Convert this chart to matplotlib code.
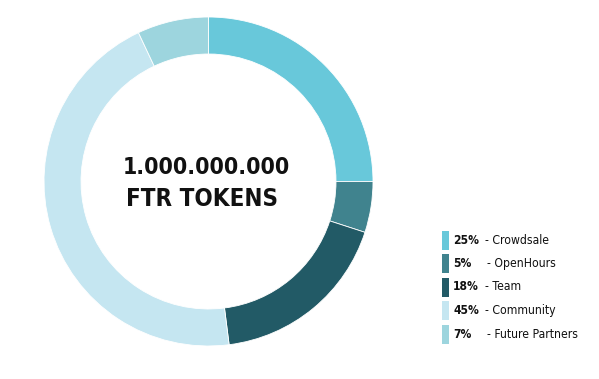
import matplotlib
matplotlib.use("Agg")
import matplotlib.pyplot as plt
from matplotlib.patches import Rectangle
from matplotlib import font_manager
from matplotlib.font_manager import FontProperties

labels = ["Crowdsale", "OpenHours", "Team", "Community", "Future Partners"]
values = [25, 5, 18, 45, 7]
pct_labels = ["25%", "5%", "18%", "45%", "7%"]
colors = ["#68C8DA", "#40838E", "#225A66", "#C5E6F1", "#9DD5DE"]
center_lines = ["1.000.000.000", "FTR TOKENS"]


def find_font(bold):
    best = None
    for f in font_manager.fontManager.ttflist:
        fn = f.fname.lower()
        cond = ("condensed" in fn or "narrow" in fn or
                str(f.stretch) in ("condensed", "semi-condensed", "extra-condensed"))
        if not cond or "italic" in fn or "oblique" in fn:
            continue
        w = f.weight if isinstance(f.weight, int) else (700 if "bold" in str(f.weight) else 400)
        score = -abs(w - (700 if bold else 400))
        if "mono" in fn or ("serif" in fn and "sans" not in fn):
            score -= 1000
        if best is None or score > best[0]:
            best = (score, f.fname)
    if best is None:
        return FontProperties(family="DejaVu Sans", weight="bold" if bold else "normal")
    return FontProperties(fname=best[1])


fp_bold = find_font(True)
fp_reg = find_font(False)

W, H = 599, 379
fig = plt.figure(figsize=(W / 100, H / 100), dpi=100)
fig.patch.set_facecolor("white")

cx, cy, R = 208.5, 181.5, 164.5
ax = fig.add_axes([(cx - R) / W, (H - cy - R) / H, 2 * R / W, 2 * R / H])
ax.pie(values, colors=colors, startangle=90, counterclock=False, radius=1,
       wedgeprops=dict(width=0.225, edgecolor="white", linewidth=0.6))
ax.set_xlim(-1, 1)
ax.set_ylim(-1, 1)
ax.set_aspect("equal")
ax.axis("off")

renderer = fig.canvas.get_renderer()


def fit(t, target_w, base):
    t.set_fontsize(base)
    w = t.get_window_extent(renderer).width
    if w > 0:
        t.set_fontsize(base * target_w / w)
    return t.get_fontsize()


t1 = fig.text(206.5 / W, (H - 167) / H, center_lines[0], ha="center", va="center",
              fontproperties=fp_bold, color="#111111")
fit(t1, 151 * 1.1, 24)
t2 = fig.text(202 / W, (H - 198.5) / H, center_lines[1], ha="center", va="center",
              fontproperties=fp_bold, color="#111111")
fit(t2, 138 * 1.1, 24)

# legend font sizes from the widths of the first row
probe = fig.text(0, 0, "- Crowdsale", fontproperties=fp_reg)
s_lab = fit(probe, 56 * 1.15, 10)
probe.remove()
probe = fig.text(0, 0, "25%", fontproperties=fp_bold)
s_pct = fit(probe, 26, 10)
probe.remove()

row_y = [240, 263.5, 287, 310.5, 334]
for i, (lab, pct, col) in enumerate(zip(labels, pct_labels, colors)):
    y = row_y[i]
    fig.patches.append(Rectangle((442 / W, (H - y - 9.5) / H), 6.5 / W, 19 / H,
                                 transform=fig.transFigure, facecolor=col,
                                 edgecolor="none"))
    fig.text(453 / W, (H - y) / H, pct, ha="left", va="center",
             fontproperties=fp_bold, fontsize=s_pct, color="#111111")
    dash_x = 487 if len(pct) == 2 else 485
    fig.text(dash_x / W, (H - y) / H, "- " + lab, ha="left", va="center",
             fontproperties=fp_reg, fontsize=s_lab, color="#111111")

fig.savefig("out.png", dpi=100, facecolor="white")
